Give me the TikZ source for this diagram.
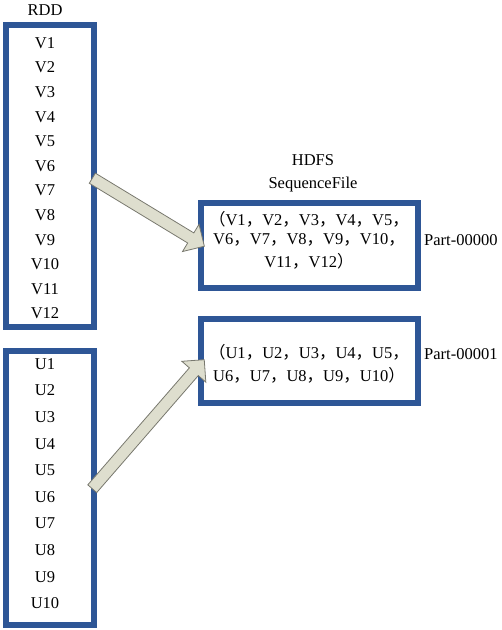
\documentclass[tikz,border=0pt]{standalone}
\usepackage{fontspec}
\setmainfont{Liberation Serif}
\newfontfamily\cjk{Noto Sans CJK SC}
\usetikzlibrary{shapes.arrows,calc}
\definecolor{boxblue}{RGB}{46,86,150}
\definecolor{arrowfill}{RGB}{222,222,206}
\definecolor{arrowline}{RGB}{120,120,110}
\newcommand{\cm}{{\cjk ，}}
\newcommand{\lp}{{\cjk （}}
\newcommand{\rp}{{\cjk ）}}
\tikzset{
  bluebox/.style={draw=boxblue, line width=6pt, fill=white, anchor=north west},
  lbl/.style={font=\fontsize{16.5}{18}\selectfont, inner sep=0pt},
  blockarrow/.style={single arrow, draw=arrowline, fill=arrowfill, line width=0.8pt,
    inner sep=5.5pt, single arrow head extend=10pt, single arrow tip angle=90,
    anchor=tail, minimum width=0pt}
}
\begin{document}
\begin{tikzpicture}[x=1pt,y=-1pt]
\useasboundingbox (0,0) rectangle (502,630);
% boxes
\node[bluebox, minimum width=88pt, minimum height=302pt] (rddA) at (3,22) {};
\node[bluebox, minimum width=88pt, minimum height=274pt] (rddB) at (3,348) {};
\node[bluebox, minimum width=217pt, minimum height=85pt] (fileA) at (198,200) {};
\node[bluebox, minimum width=217pt, minimum height=84pt] (fileB) at (198,316) {};
% labels
\node[lbl] (rdd) at (45,10) {RDD};
\node[lbl] (hdfs) at (313,160) {HDFS};
\node[lbl] (seq) at (313,185) {SequenceFile};
\foreach \i [count=\k from 0] in {1,...,12} {
  \node[lbl] (v\i) at (45,{43+\k*24.6}) {V\i};
}
\foreach \i [count=\k from 0] in {1,...,10} {
  \node[lbl] (u\i) at (45,{364+\k*26.6}) {U\i};
}
\node[lbl] (la1) at (309,219) {\lp V1\cm V2\cm V3\cm V4\cm V5\cm};
\node[lbl] (la2) at (309,240) {V6\cm V7\cm V8\cm V9\cm V10\cm};
\node[lbl] (la3) at (309,261) {V11\cm V12\rp};
\node[lbl] (lb1) at (309,352) {\lp U1\cm U2\cm U3\cm U4\cm U5\cm};
\node[lbl] (lb2) at (309,375) {U6\cm U7\cm U8\cm U9\cm U10\rp};
\node[lbl, anchor=west] (partA) at (424,240) {Part-00000};
\node[lbl, anchor=west] (partB) at (424,354) {Part-00001};
% arrows
\coordinate (sA) at (92,178);
\coordinate (tA) at (204,246);
\coordinate (sB) at (92,489);
\coordinate (tB) at (204,360);
\path let \p1=($(tA)-(sA)$), \n1={atan2(\y1,\x1)}, \n2={veclen(\x1,\y1)} in
  node[blockarrow, rotate=\n1, minimum height=\n2] (arrA) at (sA) {};
\path let \p1=($(tB)-(sB)$), \n1={atan2(\y1,\x1)}, \n2={veclen(\x1,\y1)} in
  node[blockarrow, rotate=\n1, minimum height=\n2] (arrB) at (sB) {};
\end{tikzpicture}
\end{document}
